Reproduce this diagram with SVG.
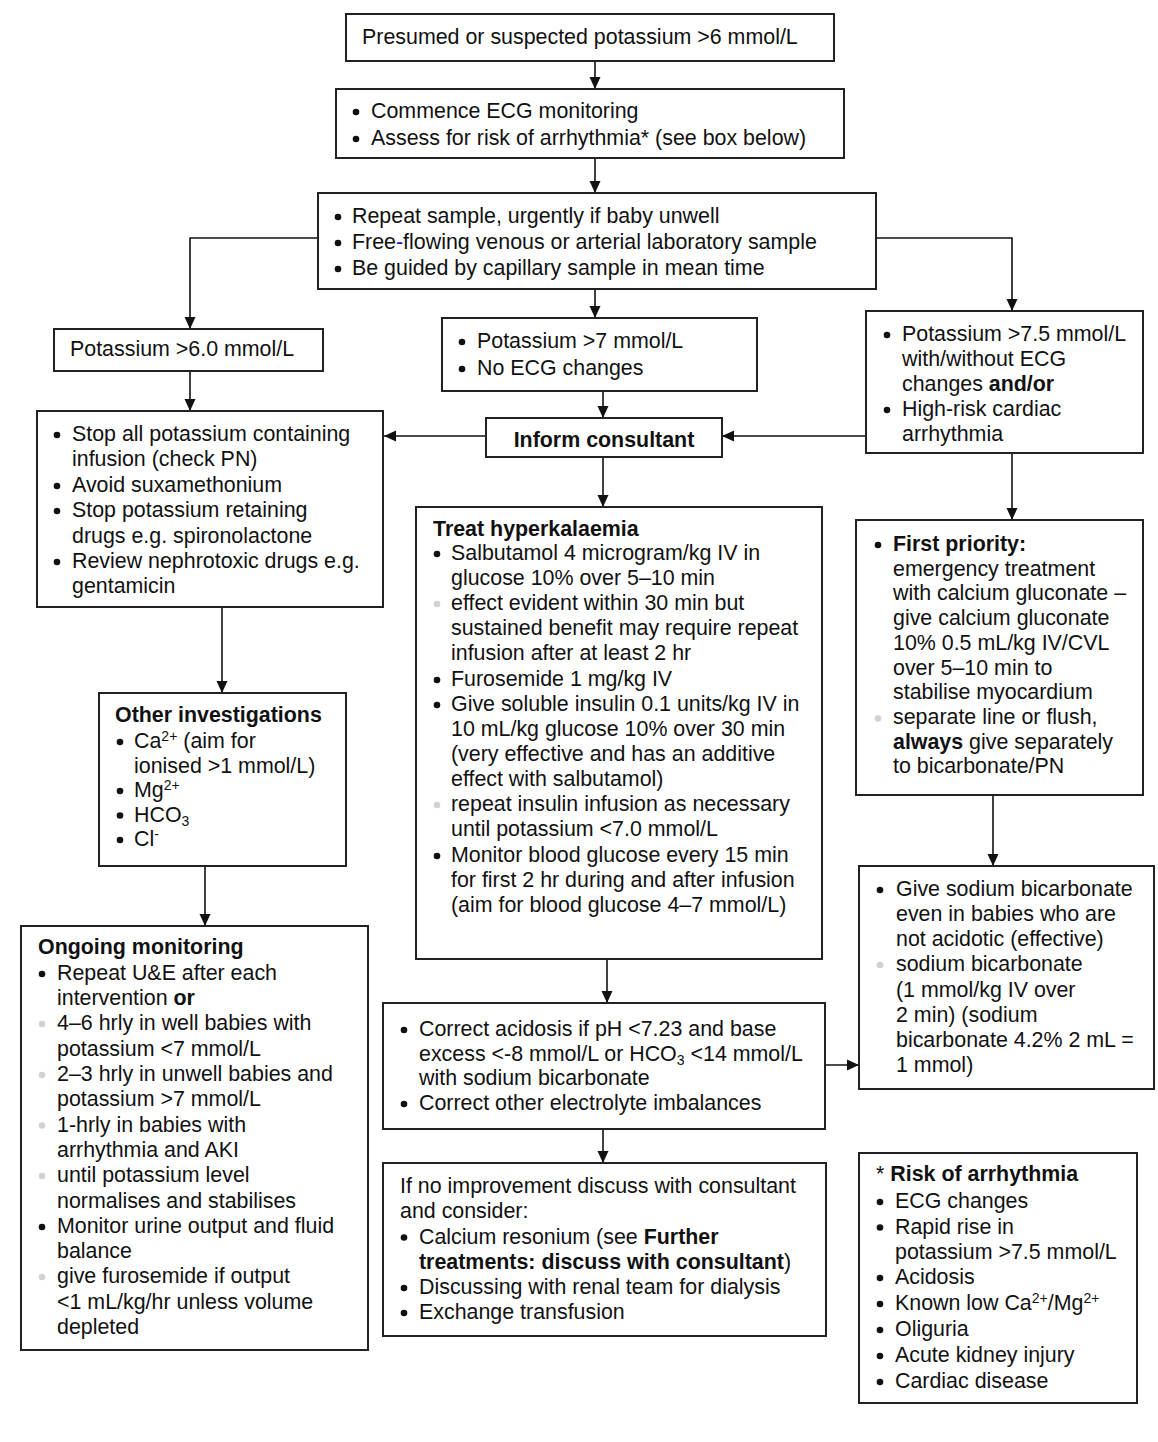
<svg xmlns="http://www.w3.org/2000/svg" width="1158" height="1442" viewBox="0 0 1158 1442">
<style>
.box{fill:#fff;stroke:#222;stroke-width:2}
.t{font-family:"Liberation Sans",Arial,sans-serif;font-size:21.4px;fill:#111}
.b{font-weight:bold}
.sup{font-size:14px}
.sub{font-size:14px}
.con{fill:none;stroke:#111;stroke-width:1.6}
.bk{fill:#111}
.gr{fill:#d2d2d2}
</style>
<defs>
<marker id="ah" markerUnits="userSpaceOnUse" markerWidth="12" markerHeight="12" refX="12" refY="6" orient="auto">
<path d="M0,0.5 L12,6 L0,11.5 z" fill="#111"/>
</marker>
</defs>
<rect width="1158" height="1442" fill="#fff"/>

<g id="connectors">
<path class="con" marker-end="url(#ah)" d="M595,61 V89"/>
<path class="con" marker-end="url(#ah)" d="M595,158 V193"/>
<path class="con" marker-end="url(#ah)" d="M318,238 H190 V329"/>
<path class="con" marker-end="url(#ah)" d="M595,289 V318"/>
<path class="con" marker-end="url(#ah)" d="M876,238 H1012 V311"/>
<path class="con" marker-end="url(#ah)" d="M190,371 V411"/>
<path class="con" marker-end="url(#ah)" d="M603,391 V418"/>
<path class="con" marker-end="url(#ah)" d="M866,436 H722"/>
<path class="con" marker-end="url(#ah)" d="M486,436 H384"/>
<path class="con" marker-end="url(#ah)" d="M1012,453 V520"/>
<path class="con" marker-end="url(#ah)" d="M603,457 V507"/>
<path class="con" marker-end="url(#ah)" d="M222,607 V693"/>
<path class="con" marker-end="url(#ah)" d="M993,795 V866"/>
<path class="con" marker-end="url(#ah)" d="M205,866 V926"/>
<path class="con" marker-end="url(#ah)" d="M607,959 V1003"/>
<path class="con" marker-end="url(#ah)" d="M825,1065 H859"/>
<path class="con" marker-end="url(#ah)" d="M603,1129 V1163"/>
</g>

<g id="n1">
<rect class="box" x="346" y="14" width="488" height="47"/>
<text class="t" x="362" y="44">Presumed or suspected potassium &gt;6 mmol/L</text>
</g>

<g id="n2">
<rect class="box" x="336" y="89" width="508" height="69"/>
<circle class="bk" cx="356" cy="112" r="3.3"/>
<circle class="bk" cx="356" cy="139" r="3.3"/>
<text class="t" x="371" y="118">Commence ECG monitoring</text>
<text class="t" x="371" y="145">Assess for risk of arrhythmia* (see box below)</text>
</g>

<g id="n3">
<rect class="box" x="318" y="193" width="558" height="96"/>
<circle class="bk" cx="338" cy="217" r="3.3"/>
<circle class="bk" cx="338" cy="243" r="3.3"/>
<circle class="bk" cx="338" cy="269" r="3.3"/>
<text class="t" x="352" y="223">Repeat sample, urgently if baby unwell</text>
<text class="t" x="352" y="249">Free<tspan fill="#1010d0">-</tspan>flowing venous or arterial laboratory sample</text>
<text class="t" x="352" y="275">Be guided by capillary sample in mean time</text>
</g>

<g id="n4">
<rect class="box" x="54" y="329" width="269" height="42"/>
<text class="t" x="70" y="356">Potassium &gt;6.0 mmol/L</text>
</g>

<g id="n5">
<rect class="box" x="442" y="318" width="315" height="73"/>
<circle class="bk" cx="462" cy="342" r="3.3"/>
<circle class="bk" cx="462" cy="369" r="3.3"/>
<text class="t" x="477" y="348">Potassium &gt;7 mmol/L</text>
<text class="t" x="477" y="375">No ECG changes</text>
</g>

<g id="n6">
<rect class="box" x="866" y="311" width="277" height="142"/>
<circle class="bk" cx="887" cy="335" r="3.3"/>
<circle class="bk" cx="887" cy="410" r="3.3"/>
<text class="t" x="902" y="341">Potassium &gt;7.5 mmol/L</text>
<text class="t" x="902" y="366">with/without ECG</text>
<text class="t" x="902" y="391">changes <tspan class="b">and/or</tspan></text>
<text class="t" x="902" y="416">High-risk cardiac</text>
<text class="t" x="902" y="441">arrhythmia</text>
</g>

<g id="n7">
<rect class="box" x="486" y="418" width="236" height="39"/>
<text class="t b" x="604" y="447" text-anchor="middle">Inform consultant</text>
</g>

<g id="n8">
<rect class="box" x="37" y="411" width="346" height="196"/>
<circle class="bk" cx="57" cy="435" r="3.3"/>
<circle class="bk" cx="57" cy="486" r="3.3"/>
<circle class="bk" cx="57" cy="511" r="3.3"/>
<circle class="bk" cx="57" cy="562" r="3.3"/>
<text class="t" x="72" y="441">Stop all potassium containing</text>
<text class="t" x="72" y="466">infusion (check PN)</text>
<text class="t" x="72" y="492">Avoid suxamethonium</text>
<text class="t" x="72" y="517">Stop potassium retaining</text>
<text class="t" x="72" y="543">drugs e.g. spironolactone</text>
<text class="t" x="72" y="568">Review nephrotoxic drugs e.g.</text>
<text class="t" x="72" y="593">gentamicin</text>
</g>

<g id="n9">
<rect class="box" x="99" y="693" width="247" height="173"/>
<text class="t b" x="115" y="722">Other investigations</text>
<circle class="bk" cx="120" cy="742" r="3.3"/>
<circle class="bk" cx="120" cy="791" r="3.3"/>
<circle class="bk" cx="120" cy="815.5" r="3.3"/>
<circle class="bk" cx="120" cy="840" r="3.3"/>
<text class="t" x="134" y="748">Ca<tspan class="sup" dy="-7">2+</tspan><tspan dy="7"> (aim for</tspan></text>
<text class="t" x="134" y="772.5">ionised &gt;1 mmol/L)</text>
<text class="t" x="134" y="797">Mg<tspan class="sup" dy="-7">2+</tspan></text>
<text class="t" x="134" y="821.5">HCO<tspan class="sub" dy="4">3</tspan></text>
<text class="t" x="134" y="846">Cl<tspan class="sup" dy="-7">-</tspan></text>
</g>

<g id="n10">
<rect class="box" x="21" y="926" width="347" height="424"/>
<text class="t b" x="38" y="954">Ongoing monitoring</text>
<circle class="bk" cx="42" cy="974" r="3.3"/>
<circle class="gr" cx="42" cy="1024" r="3.3"/>
<circle class="gr" cx="42" cy="1075" r="3.3"/>
<circle class="gr" cx="42" cy="1125.5" r="3.3"/>
<circle class="gr" cx="42" cy="1176" r="3.3"/>
<circle class="bk" cx="42" cy="1227" r="3.3"/>
<circle class="gr" cx="42" cy="1277" r="3.3"/>
<text class="t" x="57" y="980">Repeat U&amp;E after each</text>
<text class="t" x="57" y="1005">intervention <tspan class="b">or</tspan></text>
<text class="t" x="57" y="1030">4–6 hrly in well babies with</text>
<text class="t" x="57" y="1055.5">potassium &lt;7 mmol/L</text>
<text class="t" x="57" y="1081">2–3 hrly in unwell babies and</text>
<text class="t" x="57" y="1106">potassium &gt;7 mmol/L</text>
<text class="t" x="57" y="1131.5">1-hrly in babies with</text>
<text class="t" x="57" y="1157">arrhythmia and AKI</text>
<text class="t" x="57" y="1182">until potassium level</text>
<text class="t" x="57" y="1207.5">normalises and stabilises</text>
<text class="t" x="57" y="1233">Monitor urine output and fluid</text>
<text class="t" x="57" y="1258">balance</text>
<text class="t" x="57" y="1283">give furosemide if output</text>
<text class="t" x="57" y="1309">&lt;1 mL/kg/hr unless volume</text>
<text class="t" x="57" y="1334">depleted</text>
</g>

<g id="n11">
<rect class="box" x="416" y="507" width="406" height="452"/>
<text class="t b" x="433" y="536">Treat hyperkalaemia</text>
<circle class="bk" cx="437" cy="554" r="3.3"/>
<circle class="gr" cx="437" cy="604" r="3.3"/>
<circle class="bk" cx="437" cy="680" r="3.3"/>
<circle class="bk" cx="437" cy="705" r="3.3"/>
<circle class="gr" cx="437" cy="805" r="3.3"/>
<circle class="bk" cx="437" cy="856" r="3.3"/>
<text class="t" x="451" y="560">Salbutamol 4 microgram/kg IV in</text>
<text class="t" x="451" y="585">glucose 10% over 5–10 min</text>
<text class="t" x="451" y="610">effect evident within 30 min but</text>
<text class="t" x="451" y="635">sustained benefit may require repeat</text>
<text class="t" x="451" y="660">infusion after at least 2 hr</text>
<text class="t" x="451" y="686">Furosemide 1 mg/kg IV</text>
<text class="t" x="451" y="711">Give soluble insulin 0.1 units/kg IV in</text>
<text class="t" x="451" y="736">10 mL/kg glucose 10% over 30 min</text>
<text class="t" x="451" y="761">(very effective and has an additive</text>
<text class="t" x="451" y="786">effect with salbutamol)</text>
<text class="t" x="451" y="811">repeat insulin infusion as necessary</text>
<text class="t" x="451" y="836">until potassium &lt;7.0 mmol/L</text>
<text class="t" x="451" y="862">Monitor blood glucose every 15 min</text>
<text class="t" x="451" y="887">for first 2 hr during and after infusion</text>
<text class="t" x="451" y="912">(aim for blood glucose 4–7 mmol/L)</text>
</g>

<g id="n12">
<rect class="box" x="383" y="1003" width="442" height="126"/>
<circle class="bk" cx="404" cy="1030" r="3.3"/>
<circle class="bk" cx="404" cy="1104" r="3.3"/>
<text class="t" x="419" y="1036">Correct acidosis if pH &lt;7.23 and base</text>
<text class="t" x="419" y="1060.5">excess &lt;-8 mmol/L or HCO<tspan class="sub" dy="4">3</tspan><tspan dy="-4"> &lt;14 mmol/L</tspan></text>
<text class="t" x="419" y="1085">with sodium bicarbonate</text>
<text class="t" x="419" y="1110">Correct other electrolyte imbalances</text>
</g>

<g id="n13">
<rect class="box" x="383" y="1163" width="443" height="173"/>
<text class="t" x="400" y="1193">If no improvement discuss with consultant</text>
<text class="t" x="400" y="1218">and consider:</text>
<circle class="bk" cx="404" cy="1237.5" r="3.3"/>
<circle class="bk" cx="404" cy="1288" r="3.3"/>
<circle class="bk" cx="404" cy="1313" r="3.3"/>
<text class="t" x="419" y="1243.5">Calcium resonium (see <tspan class="b">Further</tspan></text>
<text class="t" x="419" y="1269"><tspan class="b">treatments: discuss with consultant</tspan>)</text>
<text class="t" x="419" y="1294">Discussing with renal team for dialysis</text>
<text class="t" x="419" y="1319">Exchange transfusion</text>
</g>

<g id="n14">
<rect class="box" x="856" y="520" width="287" height="275"/>
<circle class="bk" cx="878" cy="545" r="3.3"/>
<circle class="gr" cx="878" cy="718.5" r="3.3"/>
<text class="t b" x="893" y="551">First priority:</text>
<text class="t" x="893" y="575.7">emergency treatment</text>
<text class="t" x="893" y="600.4">with calcium gluconate –</text>
<text class="t" x="893" y="625.1">give calcium gluconate</text>
<text class="t" x="893" y="649.8">10% 0.5 mL/kg IV/CVL</text>
<text class="t" x="893" y="674.5">over 5–10 min to</text>
<text class="t" x="893" y="699.2">stabilise myocardium</text>
<text class="t" x="893" y="723.9">separate line or flush,</text>
<text class="t" x="893" y="748.6"><tspan class="b">always</tspan> give separately</text>
<text class="t" x="893" y="773.3">to bicarbonate/PN</text>
</g>

<g id="n15">
<rect class="box" x="859" y="866" width="295" height="223"/>
<circle class="bk" cx="880" cy="890" r="3.3"/>
<circle class="gr" cx="880" cy="965" r="3.3"/>
<text class="t" x="896" y="896">Give sodium bicarbonate</text>
<text class="t" x="896" y="921">even in babies who are</text>
<text class="t" x="896" y="946">not acidotic (effective)</text>
<text class="t" x="896" y="971">sodium bicarbonate</text>
<text class="t" x="896" y="996.5">(1 mmol/kg IV over</text>
<text class="t" x="896" y="1021.5">2 min) (sodium</text>
<text class="t" x="896" y="1046.6">bicarbonate 4.2% 2 mL =</text>
<text class="t" x="896" y="1071.7">1 mmol)</text>
</g>

<g id="n16">
<rect class="box" x="859" y="1153" width="278" height="250"/>
<text class="t" x="876" y="1181">* <tspan class="b">Risk of arrhythmia</tspan></text>
<circle class="bk" cx="880" cy="1202" r="3.3"/>
<circle class="bk" cx="880" cy="1227.5" r="3.3"/>
<circle class="bk" cx="880" cy="1278" r="3.3"/>
<circle class="bk" cx="880" cy="1304" r="3.3"/>
<circle class="bk" cx="880" cy="1330" r="3.3"/>
<circle class="bk" cx="880" cy="1356" r="3.3"/>
<circle class="bk" cx="880" cy="1382" r="3.3"/>
<text class="t" x="895" y="1208">ECG changes</text>
<text class="t" x="895" y="1233.5">Rapid rise in</text>
<text class="t" x="895" y="1259">potassium &gt;7.5 mmol/L</text>
<text class="t" x="895" y="1284">Acidosis</text>
<text class="t" x="895" y="1310">Known low Ca<tspan class="sup" dy="-7">2+</tspan><tspan dy="7">/Mg</tspan><tspan class="sup" dy="-7">2+</tspan></text>
<text class="t" x="895" y="1336">Oliguria</text>
<text class="t" x="895" y="1362">Acute kidney injury</text>
<text class="t" x="895" y="1388">Cardiac disease</text>
</g>
</svg>
